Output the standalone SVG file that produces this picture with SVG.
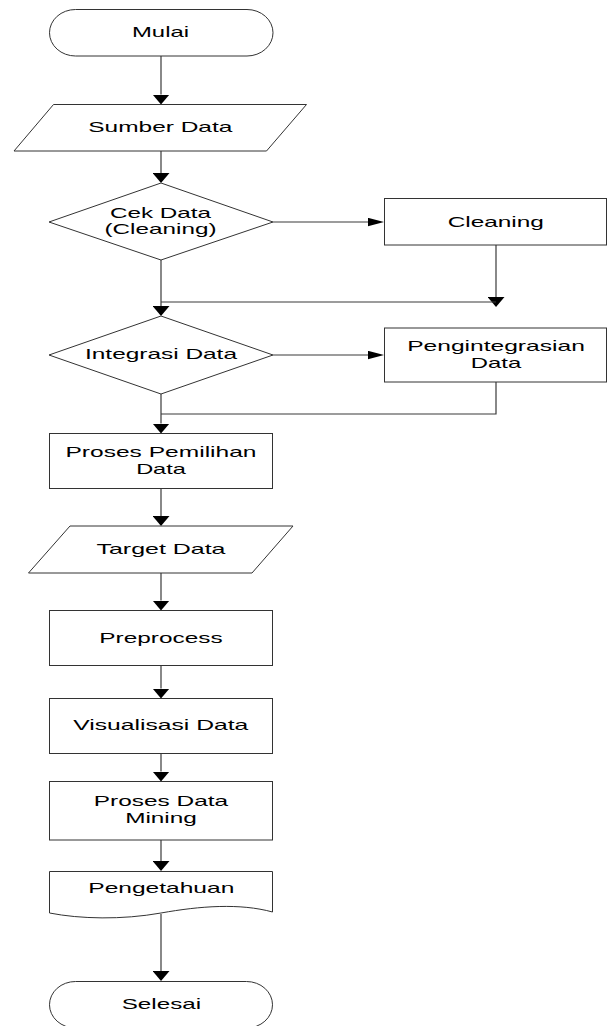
<svg xmlns="http://www.w3.org/2000/svg" width="608" height="1026" viewBox="0 0 608 1026">
<style>
.s{fill:#fff;stroke:#333;stroke-width:1}
.t{font-family:"Liberation Sans",Arial,sans-serif;font-size:14.5px;fill:#000;text-anchor:middle}
.c{fill:none;stroke:#3a3a3a;stroke-width:1.2}
</style>
<defs>
<marker id="hv" markerUnits="userSpaceOnUse" markerWidth="10" markerHeight="17" refX="0" refY="8.5" orient="auto"><path d="M0,0 L10,8.5 L0,17 z" fill="#000"/></marker>
<marker id="hh" markerUnits="userSpaceOnUse" markerWidth="16" markerHeight="9" refX="0" refY="4.2" orient="auto"><path d="M0,0 L16,4.2 L0,8.4 z" fill="#000"/></marker>
</defs>
<rect width="608" height="1026" fill="#fff"/>
<g id="connectors">
<path class="c" d="M161,56 V94.5" marker-end="url(#hv)"/>
<path class="c" d="M161,151 V173" marker-end="url(#hv)"/>
<path class="c" d="M273,222 H368" marker-end="url(#hh)"/>
<path class="c" d="M496,245 V297" marker-end="url(#hv)"/>
<path class="c" d="M496,302 H161"/>
<path class="c" d="M161,260 V306" marker-end="url(#hv)"/>
<path class="c" d="M273,355 H368" marker-end="url(#hh)"/>
<path class="c" d="M496,382 V414 H161"/>
<path class="c" d="M161,394 V423.5" marker-end="url(#hv)"/>
<path class="c" d="M161,488.5 V516" marker-end="url(#hv)"/>
<path class="c" d="M161,573 V600.5" marker-end="url(#hv)"/>
<path class="c" d="M161,665.5 V688.5" marker-end="url(#hv)"/>
<path class="c" d="M161,753.5 V771.5" marker-end="url(#hv)"/>
<path class="c" d="M161,840 V861" marker-end="url(#hv)"/>
<path class="c" d="M161,914 V971" marker-end="url(#hv)"/>
</g>
<g id="mulai">
<rect class="s" x="49.5" y="9.5" width="223.5" height="46.5" rx="26" ry="23.25"/>
<text class="t" x="160.5" y="37.3" textLength="57" lengthAdjust="spacingAndGlyphs">Mulai</text>
</g>
<g id="sumber-data">
<polygon class="s" points="53.5,104.5 306.5,104.5 266.5,151 14,151"/>
<text class="t" x="160.3" y="131.7" textLength="144" lengthAdjust="spacingAndGlyphs">Sumber Data</text>
</g>
<g id="cek-data">
<polygon class="s" points="161,183 273,222 161,260 49,222"/>
<text class="t" x="160.5" y="218.3" textLength="101" lengthAdjust="spacingAndGlyphs">Cek Data</text>
<text class="t" x="160.5" y="234.3" textLength="112" lengthAdjust="spacingAndGlyphs">(Cleaning)</text>
</g>
<g id="cleaning">
<rect class="s" x="384.5" y="198.5" width="222" height="46.5"/>
<text class="t" x="495.8" y="226.7" textLength="96.3" lengthAdjust="spacingAndGlyphs">Cleaning</text>
</g>
<g id="integrasi-data">
<polygon class="s" points="161,316 273,355 161,394 49,355"/>
<text class="t" x="161" y="359.3" textLength="152" lengthAdjust="spacingAndGlyphs">Integrasi Data</text>
</g>
<g id="pengintegrasian-data">
<rect class="s" x="384.5" y="328" width="222" height="54"/>
<text class="t" x="496" y="351" textLength="177.7" lengthAdjust="spacingAndGlyphs">Pengintegrasian</text>
<text class="t" x="496" y="367.7" textLength="50.3" lengthAdjust="spacingAndGlyphs">Data</text>
</g>
<g id="proses-pemilihan">
<rect class="s" x="49.5" y="433.5" width="223" height="55"/>
<text class="t" x="161" y="457.3" textLength="191" lengthAdjust="spacingAndGlyphs">Proses Pemilihan</text>
<text class="t" x="161" y="474" textLength="49.7" lengthAdjust="spacingAndGlyphs">Data</text>
</g>
<g id="target-data">
<polygon class="s" points="70,526 293,526 252,573 28.5,573"/>
<text class="t" x="161" y="554" textLength="129" lengthAdjust="spacingAndGlyphs">Target Data</text>
</g>
<g id="preprocess">
<rect class="s" x="49.5" y="610.5" width="223" height="55"/>
<text class="t" x="161" y="642.7" textLength="123.3" lengthAdjust="spacingAndGlyphs">Preprocess</text>
</g>
<g id="visualisasi-data">
<rect class="s" x="49.5" y="698.5" width="223" height="55"/>
<text class="t" x="160.8" y="730" textLength="175" lengthAdjust="spacingAndGlyphs">Visualisasi Data</text>
</g>
<g id="proses-data-mining">
<rect class="s" x="49.5" y="781.5" width="223" height="58.5"/>
<text class="t" x="161" y="806" textLength="134.3" lengthAdjust="spacingAndGlyphs">Proses Data</text>
<text class="t" x="161" y="823.3" textLength="71.7" lengthAdjust="spacingAndGlyphs">Mining</text>
</g>
<g id="pengetahuan">
<path class="s" d="M49.5,871.5 H272.5 V912 C240,903 200,906 161,913 C122,920 80,919 49.5,913 Z"/>
<text class="t" x="161.3" y="892.7" textLength="146" lengthAdjust="spacingAndGlyphs">Pengetahuan</text>
</g>
<g id="selesai">
<rect class="s" x="49.5" y="981.5" width="223" height="46.5" rx="26" ry="23.25"/>
<text class="t" x="161.4" y="1009.3" textLength="79.3" lengthAdjust="spacingAndGlyphs">Selesai</text>
</g>
</svg>
